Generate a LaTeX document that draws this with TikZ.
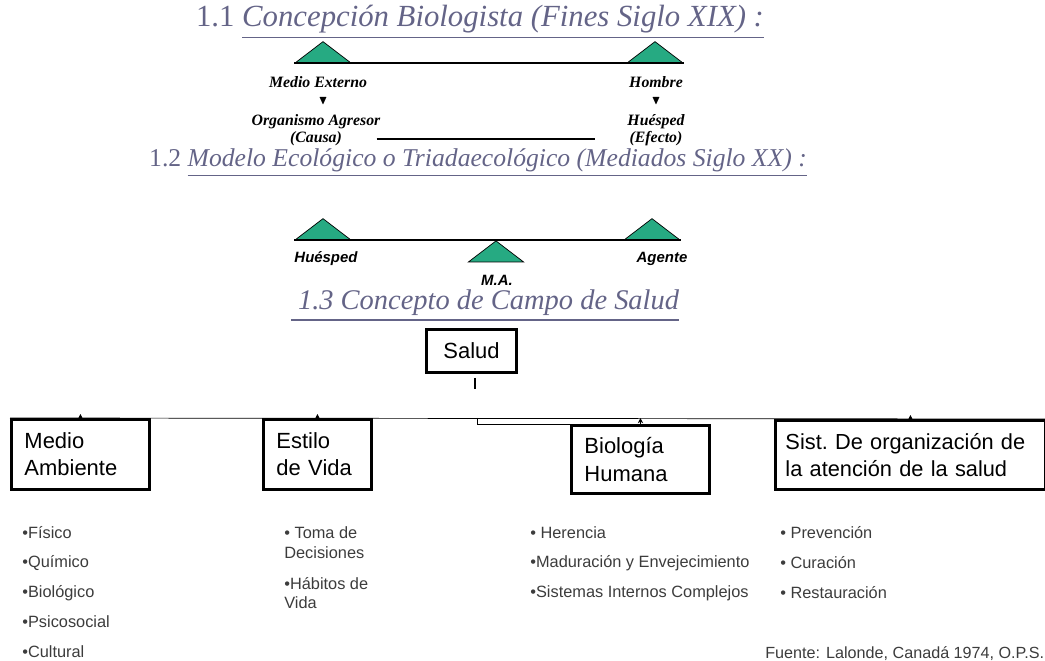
\documentclass[tikz,border=0pt]{standalone}
\usepackage{fontspec}
\setmainfont{Liberation Serif}
\setsansfont{Liberation Sans}
\usepackage{amssymb}
\usetikzlibrary{arrows.meta}
\usetikzlibrary{positioning,shapes.geometric}
\definecolor{trigreen}{RGB}{38,170,130}
\definecolor{titlecol}{RGB}{100,100,135}
\definecolor{itemcol}{RGB}{60,60,60}
\tikzset{
    title/.style={
        font=\fontsize{16}{19}\selectfont\itshape,
        text=titlecol,
        inner sep=0pt
    },
    tri/.style={
        draw,
        fill=trigreen,
        isosceles triangle,
        isosceles triangle stretches,
        shape border rotate=90,
        minimum width=1.1cm,
        minimum height=0.42cm,
        inner sep=0pt
    },
    biolab/.style={font=\fontsize{9}{11}\selectfont\bfseries\itshape},
    ecolab/.style={inner sep=0pt, font=\fontsize{8.5}{10}\selectfont\sffamily\bfseries\itshape},
    box/.style={
        draw,
        line width=1.7pt,
        anchor=north west,
        align=left,
        inner xsep=0.26cm,
        inner ysep=0pt,
        font=\fontsize{12.5}{15.5}\selectfont\sffamily
    },
    item/.style={
        anchor=west,
        align=left,
        inner sep=0pt,
        text=itemcol,
        font=\fontsize{9.3}{11.3}\selectfont\sffamily
    },
    uptip/.style={-{Stealth[length=3pt,width=3pt]}}
}

\begin{document}
\begin{tikzpicture}[x=0.02cm, y=-0.02cm]
    \useasboundingbox (0,0) rectangle (1045,661);

    % 1.1
    \node[title, font=\fontsize{17.5}{20}\selectfont\itshape] (tit1) at (480,22) {\upshape 1.1 \underline{\itshape Concepción Biologista (Fines Siglo XIX) :}};
    \node[tri, anchor=lower side] (ext) at (323,63) {};
    \node[tri, anchor=lower side] (hom) at (655,63) {};
    \draw[thick] (ext.left corner) -- (hom.right corner);
    \node[biolab] (mext) at (318,82) {Medio Externo};
    \node[biolab] (mhom) at (656,82) {Hombre};
    \node (ar1) at (323,101) {$\scriptstyle\blacktriangledown$};
    \node (ar2) at (656,101) {$\scriptstyle\blacktriangledown$};
    \node[biolab] (orga) at (316,122) {Organismo Agresor};
    \node[biolab] (causa) at (316,139) {(Causa)};
    \node[biolab] (hues) at (656,122) {Huésped};
    \node[biolab] (efecto) at (656,139) {(Efecto)};
    \draw[thick, shorten <=0.57cm, shorten >=0.57cm] (causa) -- (efecto);

    % 1.2
    \node[title, font=\fontsize{14.6}{18}\selectfont\itshape] (tit2) at (478,163) {\upshape 1.2 \underline{\itshape Modelo Ecológico o Triadaecológico (Mediados Siglo XX) :}};
    \node[tri, anchor=lower side] (huesp) at (323,240) {};
    \node[tri, anchor=lower side] (agen) at (652,240) {};
    \draw[thick] (huesp.left corner) -- (agen.right corner);
    \node[tri, anchor=apex] (ma) at (496,240) {};
    \node[ecolab] (lhuesp) at (326,259) {Huésped};
    \node[ecolab] (lagen) at (662,259) {Agente};
    \node[ecolab] (lma) at (497,280) {M.A.};

    % 1.3
    \node[title, font=\fontsize{16.2}{19}\selectfont\itshape] (tit3) at (485,306) {\underline{\ 1.3 Concepto de Campo de Salud}};
    \node[box, align=center, inner xsep=0pt, minimum width=1.8cm, minimum height=0.86cm] (salud) at (425,328) {Salud};
    \coordinate (ticktop) at (475,378);
    \coordinate (tickbot) at (475,389);
    \draw[thick] (ticktop) -- (tickbot);

    \node[box, text width=2.24cm, minimum height=1.4cm] (medio) at (10,418) {Medio\\Ambiente};
    \node[box, text width=1.64cm, minimum height=1.4cm] (estilo) at (262,418) {Estilo\\de Vida};
    \node[box, text width=2.24cm, minimum height=1.36cm] (bio) at (570,424) {Biología\\Humana};
    \node[box, inner xsep=0.2cm, text width=5.0cm, minimum height=1.38cm, font=\fontsize{12.4}{15.5}\selectfont\sffamily] (sist) at (774,419) {Sist.\ De organización de\\la atención de la salud};

    \draw (medio.north west) -- (sist.north east);
    \coordinate (busmid) at (477,418);
    \draw (busmid) |- (bio.north west);
    \draw[uptip] (medio.north) -- ++(0,-4);
    \draw[uptip] (estilo.north) -- ++(0,-4);
    \draw[uptip] (bio.north) -- ++(0,-6);
    \draw[uptip] (sist.north) -- ++(0,-4);

    % listas
    \node[item] (fis) at (22,533) {•Físico};
    \node[item] (qui) at (22,563) {•Químico};
    \node[item] (biol) at (22,593) {•Biológico};
    \node[item] (psi) at (22,622) {•Psicosocial};
    \node[item] (cul) at (22,652) {•Cultural};

    \node[item] (toma) at (284,543) {• Toma de\\Decisiones};
    \node[item] (habi) at (284,593) {•Hábitos de\\Vida};

    \node[item] (her) at (530,533) {• Herencia};
    \node[item] (mad) at (530,563) {•Maduración y Envejecimiento};
    \node[item] (sis) at (530,593) {•Sistemas Internos Complejos};

    \node[item] (pre) at (780,533) {• Prevención};
    \node[item] (cur) at (780,563) {• Curación};
    \node[item] (res) at (780,593) {• Restauración};

    \node[item, font=\fontsize{9.2}{10}\selectfont\sffamily] (fuente) at (765,654) {Fuente: Lalonde, Canadá 1974, O.P.S.};
\end{tikzpicture}
\end{document}
